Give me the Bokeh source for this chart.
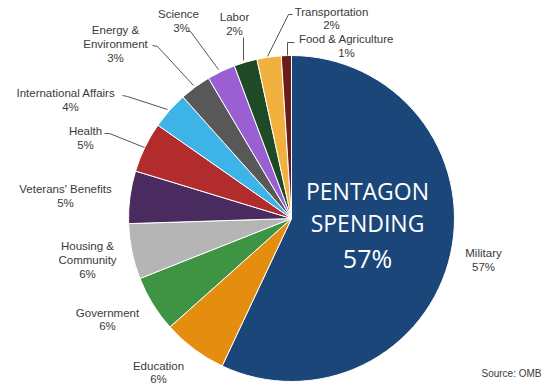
import numpy as np
from bokeh.plotting import figure
from bokeh.models import Range1d
from bokeh.core.properties import value
from bokeh.embed import file_html
from bokeh.resources import INLINE

# ---- data ----
categories = ["Military", "Education", "Government", "Housing & Community",
              "Veterans' Benefits", "Health", "International  Affairs",
              "Energy & Environment", "Science", "Labor", "Transportation",
              "Food & Agriculture"]
shares = [57.0, 6.4, 5.6, 5.5, 5.2, 5.0, 3.7, 3.1, 2.8, 2.3, 2.4, 1.0]
pct_labels = ["57%", "6%", "6%", "6%", "5%", "5%", "4%", "3%", "3%", "2%", "2%", "1%"]
colors = ["#1b4679", "#e58d0e", "#3e9443", "#b5b5b5", "#4a2b5f", "#b32c2d",
          "#3db3e8", "#585858", "#9a5fd3", "#1e4a26", "#f1b13e", "#6a1b1c"]

# ---- layout ----
W, H = 548, 391
def X(px):
    return px
def Y(py):
    return H - py

cx, cy, R = X(291), Y(218), 163

p = figure(width=W, height=H, output_backend="svg", toolbar_location=None,
           x_range=Range1d(0, W), y_range=Range1d(0, H), min_border=0)
p.axis.visible = False
p.grid.visible = False
p.outline_line_color = None
p.background_fill_color = "white"

frac = np.array(shares) / np.sum(shares)
cum = np.concatenate([[0], np.cumsum(frac)])
start = np.pi / 2 - cum[:-1] * 2 * np.pi
end = np.pi / 2 - cum[1:] * 2 * np.pi
p.wedge(x=cx, y=cy, radius=R, start_angle=start, end_angle=end,
        direction="clock", fill_color=colors, line_color="white", line_width=1)

# label lines (name lines, then pct), positions in image pixels
label_pos = {
    "Military": [(483, 252), (483, 266)],
    "Education": [(158, 365), (158, 378)],
    "Government": [(107, 312), (107, 325)],
    "Housing & Community": [(87, 245), (87, 259), (87, 273)],
    "Veterans' Benefits": [(65, 188), (65, 202)],
    "Health": [(85, 130), (85, 144)],
    "International  Affairs": [(67, 92), (70, 106)],
    "Energy & Environment": [(115, 29), (115, 43), (115, 57)],
    "Science": [(178, 13), (181, 27)],
    "Labor": [(234, 16), (234, 30)],
    "Transportation": [(331, 11), (331, 24)],
    "Food & Agriculture": [(346, 38), (346, 52)],
}
name_lines = {
    "Housing & Community": ["Housing &", "Community"],
    "Energy & Environment": ["Energy &", "Environment"],
}
tx, ty, tt = [], [], []
for cat, pct in zip(categories, pct_labels):
    lines = name_lines.get(cat, [cat]) + [pct]
    for (px, py), s in zip(label_pos[cat], lines):
        tx.append(X(px)); ty.append(Y(py)); tt.append(s)
p.text(x=tx, y=ty, text=tt, text_align="center", text_baseline="middle",
       text_font=value("Liberation Sans"), text_font_size="11.5px",
       text_color="#3a3a3a")

leaders = [
    [(186, 31), (190, 31), (218, 69)],
    [(243, 37), (243, 60)],
    [(152, 45), (157, 46), (193, 85)],
    [(122, 95), (127, 96), (167, 109)],
    [(104, 133), (109, 133), (144, 147)],
    [(292, 14), (288, 14), (267, 56)],
    [(294, 42), (287, 42), (287, 55)],
]
p.multi_line(xs=[[X(a) for a, b in L] for L in leaders],
             ys=[[Y(b) for a, b in L] for L in leaders],
             line_color="#555555", line_width=1)

# center text
p.text(x=[X(367)] * 2, y=[Y(190), Y(222)], text=["PENTAGON", "SPENDING"],
       text_align="center", text_baseline="middle",
       text_font=value("Open Sans"), text_font_size="23px", text_color="white")
p.text(x=[X(367)], y=[Y(257)], text=["57%"],
       text_align="center", text_baseline="middle",
       text_font=value("Open Sans"), text_font_size="25px", text_color="white")

p.text(x=[X(541)], y=[Y(373)], text=["Source: OMB"], text_align="right",
       text_baseline="middle", text_font=value("Liberation Sans"),
       text_font_size="10px", text_color="#3a3a3a")

open("out.html", "w").write(file_html(p, INLINE))
